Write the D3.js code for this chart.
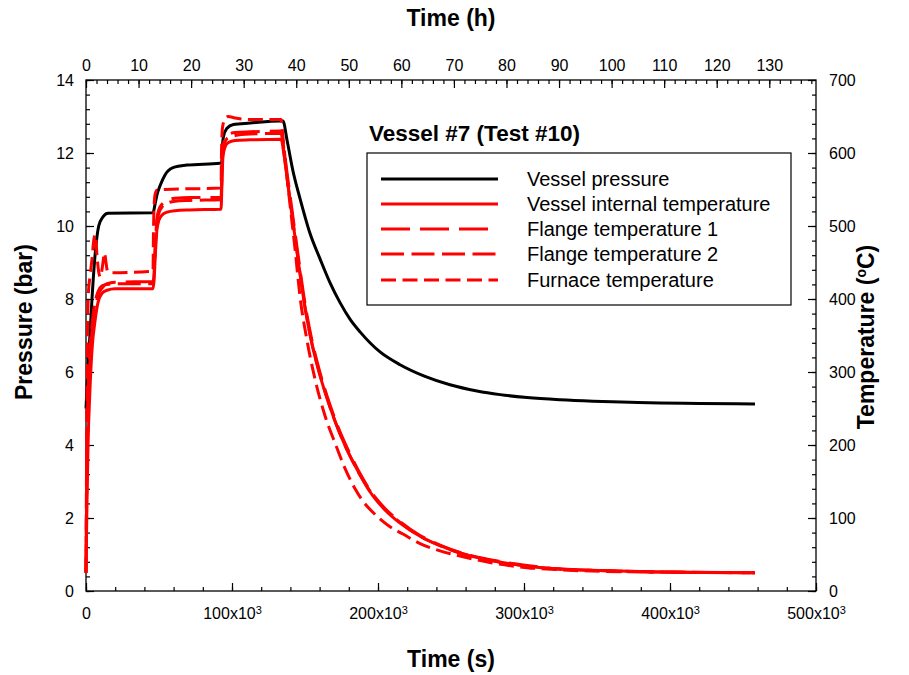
<!DOCTYPE html>
<html>
<head>
<meta charset="utf-8">
<script src="https://cdn.jsdelivr.net/npm/d3@7"></script>
<style>
  body { margin: 0; background: #fff; }
  svg { display: block; font-family: "Liberation Sans", Arial, sans-serif; }
</style>
</head>
<body>
<div id="chart"></div>
<script>
// Vessel pressure (bar) against time (s)
const pressureTime = [0, 1400, 2700, 4100, 6200, 8700, 11600, 15100, 45900, 47300, 48600, 50700, 54100, 59600, 69200, 91800,
    93000, 93500, 94100, 96400, 100900, 112300, 132900, 134900, 137700, 141800, 146600, 153400, 160300, 167100, 174000,
    180800, 187700, 201400, 215100, 232200, 249300, 267800, 283600, 302100, 324700, 347300, 372600, 393200, 420500, 458200];
const pressureBar = [5.0, 6.2, 7.0, 8.0, 9.2, 10.0, 10.25, 10.35, 10.36, 10.6, 10.85, 11.1, 11.4, 11.6, 11.67, 11.72,
    11.75, 12.2, 12.44, 12.67, 12.78, 12.82, 12.88, 12.88, 12.35, 11.5, 10.75, 9.8, 9.1, 8.45, 7.9,
    7.45, 7.1, 6.55, 6.2, 5.88, 5.65, 5.48, 5.38, 5.3, 5.24, 5.2, 5.17, 5.15, 5.14, 5.12];

// Vessel internal + flange temperatures (°C) share one time base
const tempTime = [0, 700, 1400, 2700, 4100, 6200, 8200, 11000, 14400, 19900,
    45900, 46600, 47600, 48600, 50000, 52100, 55500, 61000, 71200, 92500,
    93200, 93800, 95200, 97300, 102100, 112300, 133600, 135600, 138400, 141100,
    145200, 150000, 154800, 160300, 167100, 174000, 180800, 187700, 194500, 204800,
    215100, 228800, 242500, 256200, 276700, 302100, 324700, 352100, 393200, 458200];
const vesselTemp = [25, 125, 200, 275, 330, 370, 395, 408, 412, 414,
    414, 425, 465, 495, 508, 515, 519, 521, 522, 523,
    565, 595, 608, 614, 617, 618, 619, 598, 555, 515,
    455, 388, 338, 295, 252, 215, 185, 159, 136, 111,
    93, 75, 62, 52, 42, 34, 30, 28, 26, 25];
const flange1Temp = [25, 175, 250, 315, 355, 385, 405, 415, 421, 423,
    424, 440, 480, 510, 523, 530, 535, 538, 539, 539,
    580, 608, 620, 625, 628, 629, 630, 605, 562, 522,
    461, 394, 343, 299, 255, 218, 188, 161, 138, 113,
    95, 76, 63, 53, 43, 35, 30, 28, 26, 25];
const flange2Temp = [25, 200, 270, 330, 365, 395, 410, 418, 420, 421,
    421, 435, 475, 505, 518, 526, 531, 534, 535, 536,
    575, 602, 615, 621, 624, 626, 627, 600, 556, 516,
    455, 389, 339, 296, 252, 215, 185, 159, 137, 112,
    94, 75, 62, 52, 42, 34, 30, 28, 26, 25];

// Furnace temperature (°C)
const furnaceTime = [0, 300, 700, 1000, 1700, 2700, 4100, 5500, 6500, 7500, 8900, 9900, 11300, 12700, 13700, 14700, 16400,
    45900, 46200, 46600, 47300, 48600, 54100, 91800, 92500, 92800, 93500, 95200, 97300, 102100, 112300, 133600,
    134900, 137000, 139700, 143200, 146600, 151400, 156900, 163700, 170500, 177400, 184300, 189000, 197900,
    208200, 217100, 228800, 242500, 256200, 276700, 302100, 324700, 352100, 393200, 458200];
const furnaceTemp = [25, 150, 275, 350, 410, 430, 455, 483, 488, 460, 435, 430, 445, 463, 450, 438, 436,
    438, 490, 525, 543, 549, 550, 552, 553, 600, 635, 647, 650, 648, 646, 646,
    622, 580, 530, 468, 403, 343, 290, 240, 203, 168, 140, 125, 105,
    88, 78, 65, 55, 48, 39, 32, 29, 27, 26, 25];

const legendLabels = ["Vessel pressure", "Vessel internal temperature", "Flange temperature 1",
    "Flange temperature 2", "Furnace temperature"];

const secTicks = [0, 100000, 200000, 300000, 400000, 500000];
const hourTicks = [0, 10, 20, 30, 40, 50, 60, 70, 80, 90, 100, 110, 120, 130];
const pressureTicks = [0, 2, 4, 6, 8, 10, 12, 14];
const tempTicks = [0, 100, 200, 300, 400, 500, 600, 700];

const W = 909, H = 675;
const plot = { left: 86, right: 816, top: 80, bottom: 591 };

const svg = d3.select("#chart").append("svg")
    .attr("width", W)
    .attr("height", H);

const x = d3.scaleLinear().domain([0, 500000]).range([plot.left, plot.right]);
const xh = d3.scaleLinear().domain([0, 500000 / 3600]).range([plot.left, plot.right]);
const yP = d3.scaleLinear().domain([0, 14]).range([plot.bottom, plot.top]);
const yT = d3.scaleLinear().domain([0, 700]).range([plot.bottom, plot.top]);

function minorTicks(scale, step) {
    const [a, b] = scale.domain();
    return d3.range(a, b + step / 2, step).filter(v => v <= b + 1e-9);
}

function styleAxis(g) {
    g.select(".domain").remove();
    g.selectAll(".tick line").attr("stroke", "#000").attr("stroke-width", 1.2);
    g.selectAll("text").attr("fill", "#000").attr("font-size", 16);
}

// bottom axis (seconds)
svg.append("g")
    .attr("transform", `translate(0,${plot.bottom})`)
    .call(d3.axisBottom(x).tickValues(minorTicks(x, 20000)).tickSize(-4).tickFormat(""))
    .call(styleAxis);
const bx = svg.append("g")
    .attr("transform", `translate(0,${plot.bottom})`)
    .call(d3.axisBottom(x).tickValues(secTicks).tickSize(-8).tickPadding(17)
        .tickFormat(d => d === 0 ? "0" : `${d / 1000}x10`))
    .call(styleAxis);
bx.selectAll("text").filter(d => d > 0)
    .append("tspan").attr("dy", "-0.45em").attr("font-size", 11).text("3");

// top axis (hours)
svg.append("g")
    .attr("transform", `translate(0,${plot.top})`)
    .call(d3.axisTop(xh).tickValues(d3.range(0, 139, 2)).tickSize(-4).tickFormat(""))
    .call(styleAxis);
svg.append("g")
    .attr("transform", `translate(0,${plot.top})`)
    .call(d3.axisTop(xh).tickValues(hourTicks).tickSize(-8).tickPadding(9))
    .call(styleAxis);

// left axis (pressure)
svg.append("g")
    .attr("transform", `translate(${plot.left},0)`)
    .call(d3.axisLeft(yP).tickValues(minorTicks(yP, 0.4)).tickSize(-4).tickFormat(""))
    .call(styleAxis);
svg.append("g")
    .attr("transform", `translate(${plot.left},0)`)
    .call(d3.axisLeft(yP).tickValues(pressureTicks).tickSize(-8).tickPadding(12))
    .call(styleAxis);

// right axis (temperature)
svg.append("g")
    .attr("transform", `translate(${plot.right},0)`)
    .call(d3.axisRight(yT).tickValues(minorTicks(yT, 20)).tickSize(-4).tickFormat(""))
    .call(styleAxis);
svg.append("g")
    .attr("transform", `translate(${plot.right},0)`)
    .call(d3.axisRight(yT).tickValues(tempTicks).tickSize(-8).tickPadding(13))
    .call(styleAxis);

// plot frame
svg.append("rect")
    .attr("x", plot.left).attr("y", plot.top)
    .attr("width", plot.right - plot.left).attr("height", plot.bottom - plot.top)
    .attr("fill", "none").attr("stroke", "#000").attr("stroke-width", 1.3);

// axis titles
svg.append("text")
    .attr("x", (plot.left + plot.right) / 2).attr("y", 26)
    .attr("text-anchor", "middle").attr("font-size", 23).attr("font-weight", "bold")
    .text("Time (h)");
svg.append("text")
    .attr("x", (plot.left + plot.right) / 2).attr("y", 667)
    .attr("text-anchor", "middle").attr("font-size", 23).attr("font-weight", "bold")
    .text("Time (s)");
svg.append("text")
    .attr("transform", "translate(32,322) rotate(-90)")
    .attr("text-anchor", "middle").attr("font-size", 23).attr("font-weight", "bold")
    .text("Pressure (bar)");
const tTitle = svg.append("text")
    .attr("transform", "translate(874,337) rotate(-90)")
    .attr("text-anchor", "middle").attr("font-size", 23).attr("font-weight", "bold");
tTitle.append("tspan").text("Temperature (");
tTitle.append("tspan").attr("dy", -8).attr("font-size", 14).text("o");
tTitle.append("tspan").attr("dy", 8).text("C)");

// series
const series = [
    { time: pressureTime, values: pressureBar, y: yP, color: "#000", dash: null },
    { time: tempTime, values: vesselTemp, y: yT, color: "#ff0000", dash: null },
    { time: tempTime, values: flange1Temp, y: yT, color: "#ff0000", dash: "29,10" },
    { time: tempTime, values: flange2Temp, y: yT, color: "#ff0000", dash: "23,7.5" },
    { time: furnaceTime, values: furnaceTemp, y: yT, color: "#ff0000", dash: "15,6.5" }
];

series.forEach(s => {
    const line = d3.line()
        .x((d, i) => x(s.time[i]))
        .y(d => s.y(d))
        .curve(d3.curveMonotoneX);
    svg.append("path")
        .datum(s.values)
        .attr("fill", "none")
        .attr("stroke", s.color)
        .attr("stroke-width", 3)
        .attr("stroke-linejoin", "round")
        .attr("stroke-dasharray", s.dash)
        .attr("d", line);
});

// chart title + legend
svg.append("text")
    .attr("x", 369).attr("y", 141)
    .attr("font-size", 22.5).attr("font-weight", "bold")
    .text("Vessel #7 (Test #10)");

svg.append("rect")
    .attr("x", 367).attr("y", 153)
    .attr("width", 424).attr("height", 152)
    .attr("fill", "#fff").attr("stroke", "#000").attr("stroke-width", 1.2);

const legendRows = [179, 204, 229, 254, 280];
legendLabels.forEach((label, i) => {
    const s = series[i];
    svg.append("line")
        .attr("x1", 381).attr("x2", 498)
        .attr("y1", legendRows[i]).attr("y2", legendRows[i])
        .attr("stroke", s.color).attr("stroke-width", 3)
        .attr("stroke-dasharray", s.dash);
    svg.append("text")
        .attr("x", 527).attr("y", legendRows[i] + 7)
        .attr("font-size", 20)
        .text(label);
});
</script>
</body>
</html>
